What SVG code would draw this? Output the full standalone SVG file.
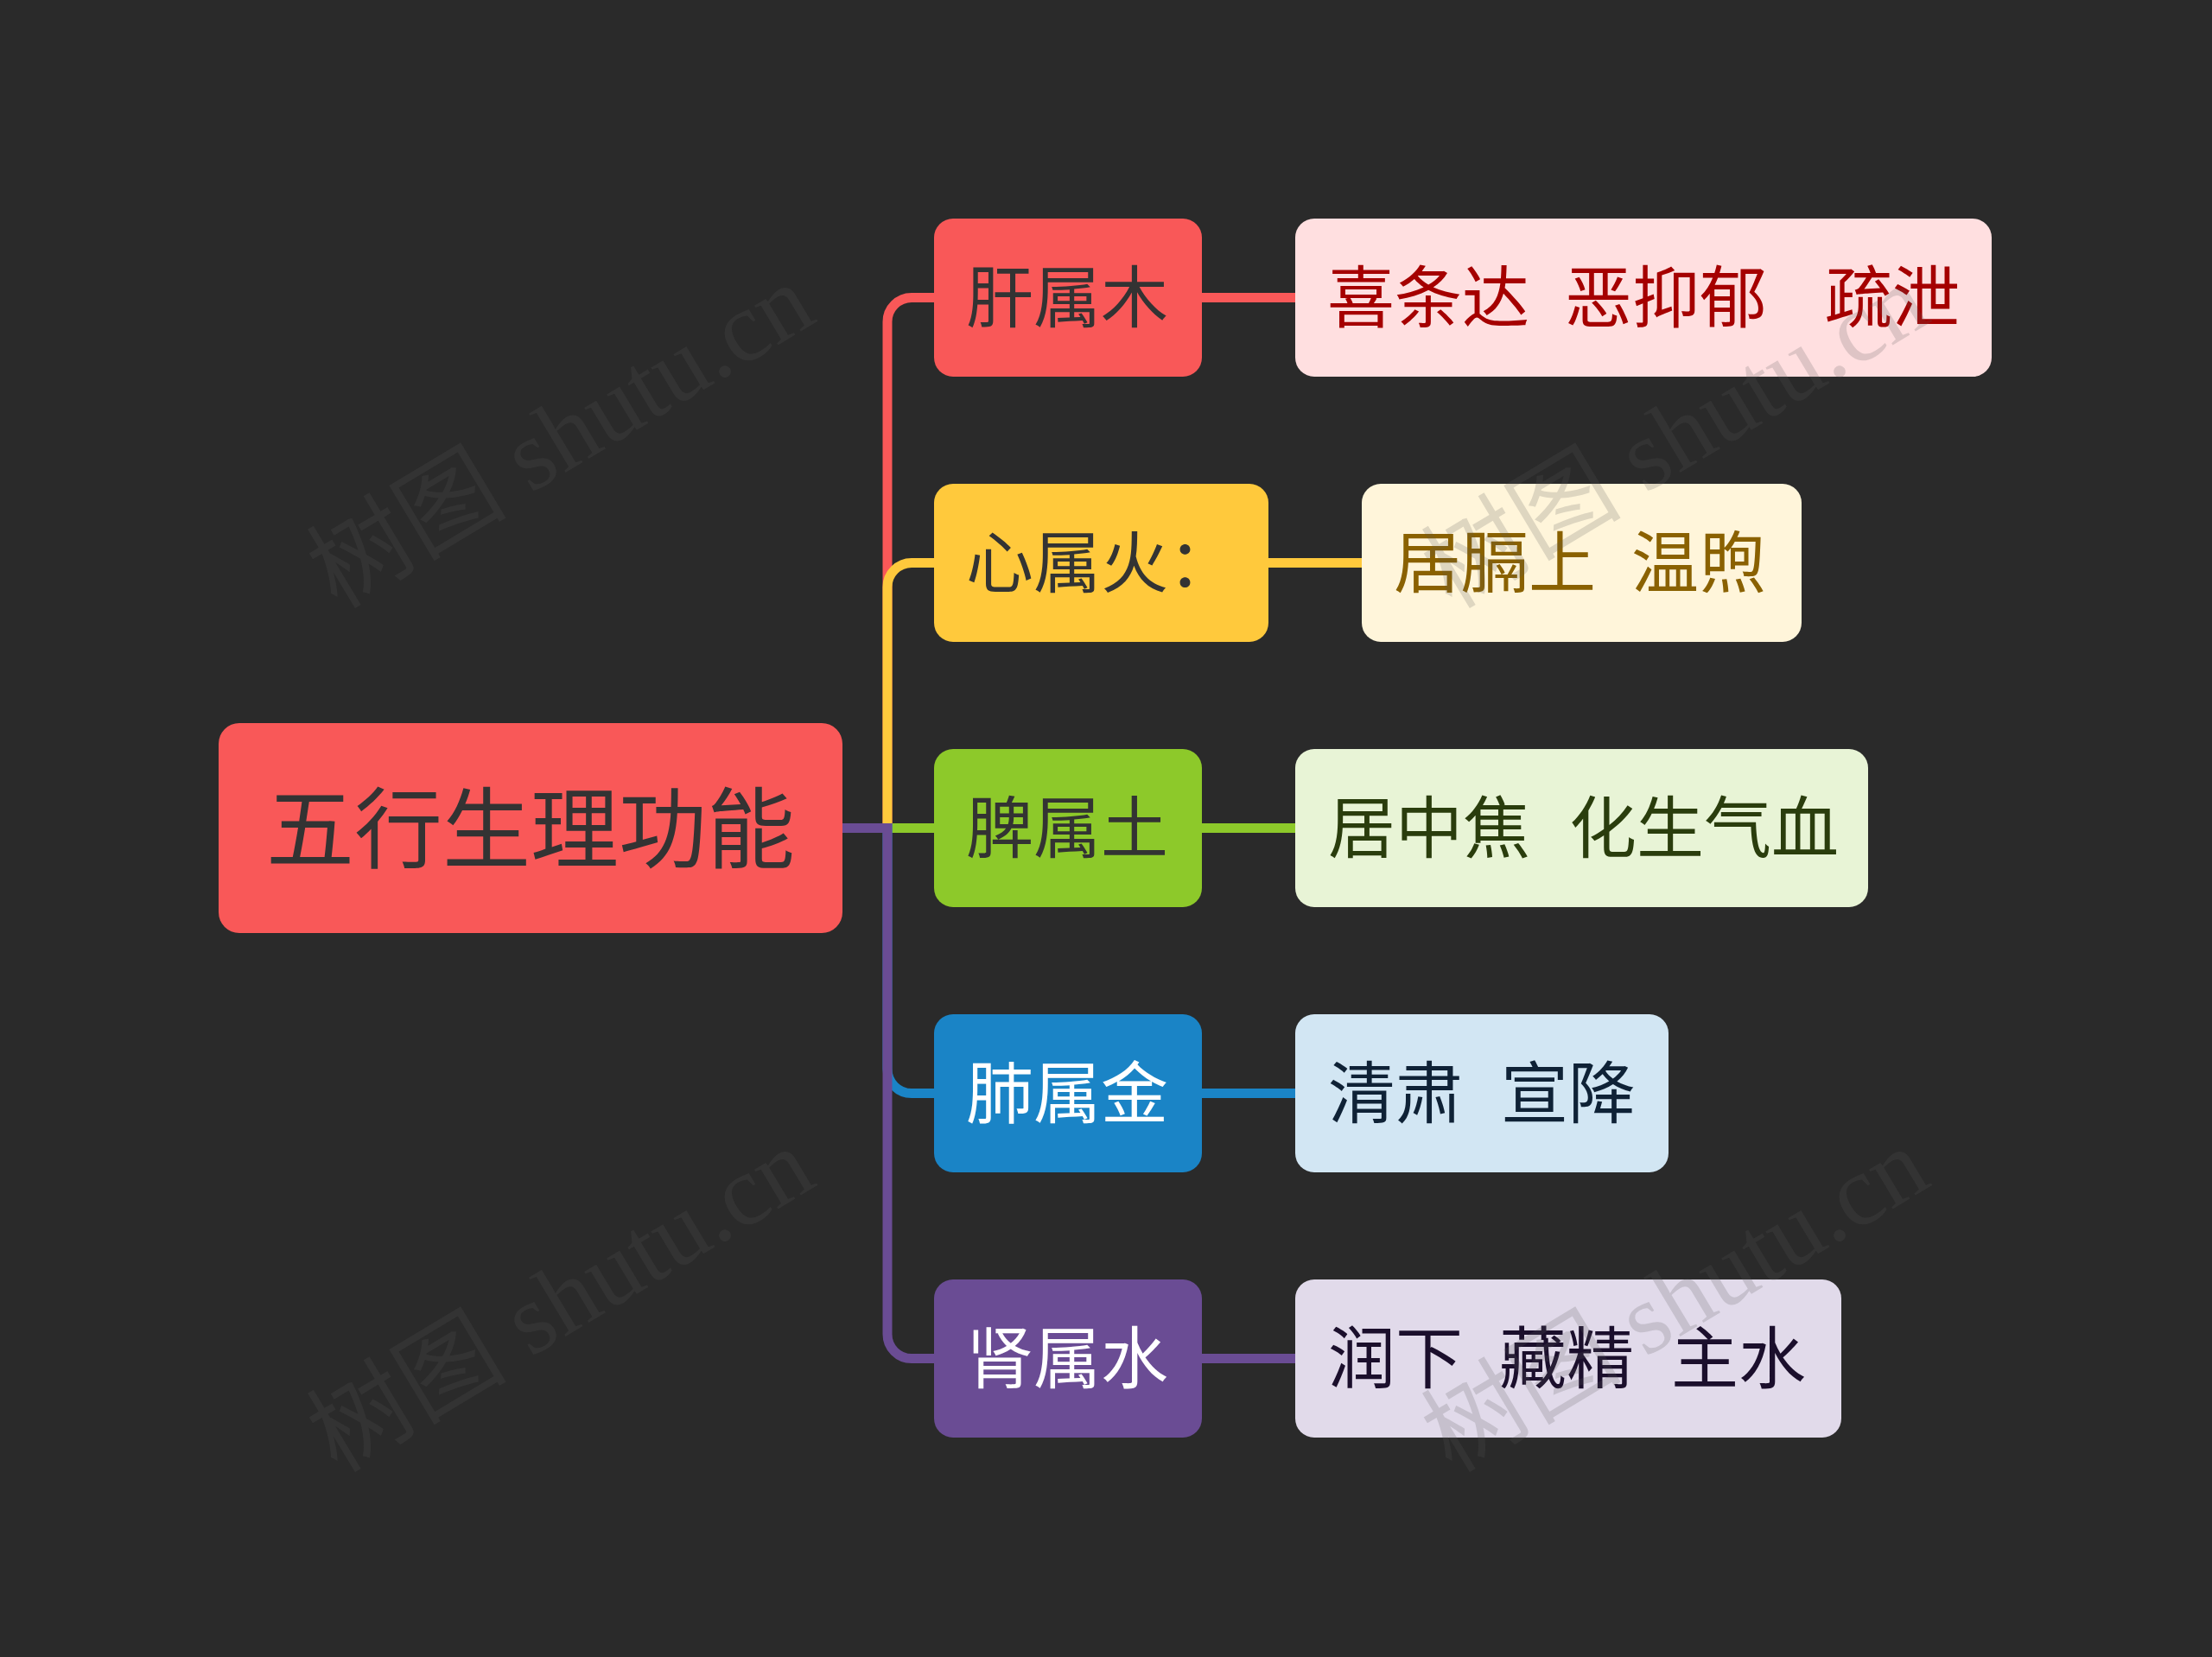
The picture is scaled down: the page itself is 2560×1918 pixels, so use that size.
<svg xmlns="http://www.w3.org/2000/svg" width="2560" height="1918" viewBox="0 0 2560 1918">
<style>
.t{font-family:"Noto Sans CJK SC","Noto Sans",sans-serif;}
.root{font-size:102px;fill:#333333;}
.l1{font-size:78px;}
.l2{font-size:78px;}
.c{fill:none;stroke-width:11;stroke-linecap:butt;}
.wm{font-family:"Liberation Serif","Noto Sans CJK SC",serif;font-size:116px;fill:#5a5a5a;fill-opacity:0.2;}
</style>
<rect x="0" y="0" width="2560" height="1918" fill="#2a2a2a"/>
<g id="connectors">
<path class="c" stroke="#F95858" d="M975,958.5 H1027 V372.5 A28,28 0 0 1 1055,344.5 H1081"/>
<path class="c" stroke="#FFC93C" d="M975,958.5 H1027 V679.5 A28,28 0 0 1 1055,651.5 H1081"/>
<path class="c" stroke="#8DC92A" d="M975,958.5 H1081"/>
<path class="c" stroke="#1A84C6" d="M975,958.5 H1027 V1237.5 A28,28 0 0 0 1055,1265.5 H1081"/>
<path class="c" stroke="#6A4C94" d="M975,958.5 H1027 V1544.5 A28,28 0 0 0 1055,1572.5 H1081"/>
<path class="c" stroke="#F95858" d="M1391,344.5 H1499"/>
<path class="c" stroke="#FFC93C" d="M1468,651.5 H1576"/>
<path class="c" stroke="#8DC92A" d="M1391,958.5 H1499"/>
<path class="c" stroke="#1A84C6" d="M1391,1265.5 H1499"/>
<path class="c" stroke="#6A4C94" d="M1391,1572.5 H1499"/>
</g>
<g id="root">
<rect x="253" y="837" width="722" height="243" rx="24" fill="#F95858"/>
<text class="t root" x="614" y="997" text-anchor="middle">五行生理功能</text>
</g>
<g id="n-gan">
<rect x="1081" y="253" width="310" height="183" rx="22" fill="#F95858"/>
<text class="t l1" x="1118" y="373" fill="#333333">肝属木</text>
</g>
<g id="n-xin">
<rect x="1081" y="560" width="387" height="183" rx="22" fill="#FFC93C"/>
<text class="t l1" x="1118" y="680" fill="#333333">心属火：</text>
</g>
<g id="n-pi">
<rect x="1081" y="867" width="310" height="183" rx="22" fill="#8DC92A"/>
<text class="t l1" x="1118" y="987" fill="#333333">脾属土</text>
</g>
<g id="n-fei">
<rect x="1081" y="1174" width="310" height="183" rx="22" fill="#1A84C6"/>
<text class="t l1" x="1118" y="1294" fill="#ffffff">肺属金</text>
</g>
<g id="n-shen">
<rect x="1081" y="1481" width="310" height="183" rx="22" fill="#6A4C94"/>
<text class="t l1" x="1118" y="1601" fill="#ffffff">肾属水</text>
</g>
<g id="d-gan">
<rect x="1499" y="253" width="806" height="183" rx="22" fill="#FFDFE0"/>
<text class="t l2" y="373" fill="#A50000"><tspan x="1536">喜条达</tspan><tspan x="1811">恶抑郁</tspan><tspan x="2112">疏泄</tspan></text>
</g>
<g id="d-xin">
<rect x="1576" y="560" width="509" height="183" rx="22" fill="#FFF5DA"/>
<text class="t l2" y="680" fill="#8A6100"><tspan x="1613">居膈上</tspan><tspan x="1888">温煦</tspan></text>
</g>
<g id="d-pi">
<rect x="1499" y="867" width="663" height="183" rx="22" fill="#E8F4D6"/>
<text class="t l2" y="987" fill="#2A3D0D"><tspan x="1537">居中焦</tspan><tspan x="1816">化生气血</tspan></text>
</g>
<g id="d-fei">
<rect x="1499" y="1174" width="432" height="183" rx="22" fill="#D2E6F3"/>
<text class="t l2" y="1294" fill="#0F2236"><tspan x="1537">清肃</tspan><tspan x="1737">宣降</tspan></text>
</g>
<g id="d-shen">
<rect x="1499" y="1481" width="632" height="183" rx="22" fill="#E1DAEA"/>
<text class="t l2" y="1601" fill="#1B0F2C"><tspan x="1537">润下</tspan><tspan x="1735">藏精</tspan><tspan x="1934">主水</tspan></text>
</g>
<g id="watermarks">
<text class="wm" x="390" y="706" transform="rotate(-31 390 706)">树图 shutu.cn</text>
<text class="wm" x="1680" y="706" transform="rotate(-31 1680 706)">树图 shutu.cn</text>
<text class="wm" x="390" y="1706" transform="rotate(-31 390 1706)">树图 shutu.cn</text>
<text class="wm" x="1680" y="1706" transform="rotate(-31 1680 1706)">树图 shutu.cn</text>
</g>
</svg>
